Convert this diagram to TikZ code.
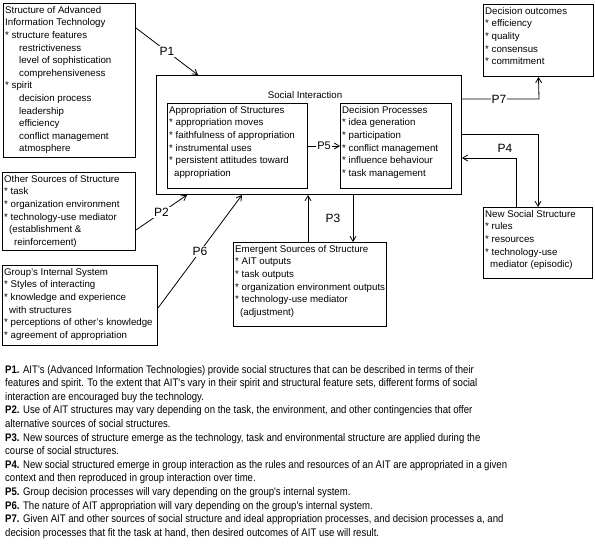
\documentclass[tikz,border=0pt]{standalone}
\usepackage{fontspec}
\setmainfont{Liberation Sans}
\newfontfamily\notefont[FakeStretch=0.87]{Liberation Sans}
\usetikzlibrary{arrows.meta}

\tikzset{
  box/.style={draw, line width=1pt, inner sep=0pt, anchor=north west},
  boxtext/.style={anchor=north west, inner xsep=2pt, inner ysep=3pt, align=left,
    font=\fontsize{9.7}{12.6}\selectfont},
  arr/.style={line width=0.8pt, -{Straight Barb[length=5pt,width=6pt]}},
  link/.style={line width=0.8pt},
  plabel/.style={fill=white, inner sep=1pt, font=\fontsize{12}{12}\selectfont}
}
\newcommand{\sub}{\hspace*{14pt}}
\newcommand{\cont}{\hspace*{5pt}}

\begin{document}
\begin{tikzpicture}[x=1pt, y=-1pt]
  \useasboundingbox[fill=white] (0,0) rectangle (595,560);

  % boxes
  \node[box, minimum width=132, minimum height=154] (ait) at (3,3) {};
  \node[box, minimum width=305, minimum height=119] (social) at (156,75) {};
  \node[box, minimum width=140, minimum height=85] (approp) at (167,103) {};
  \node[box, minimum width=111, minimum height=85] (decision) at (340,103) {};
  \node[box, minimum width=110, minimum height=72] (outcomes) at (483,4) {};
  \node[box, minimum width=109, minimum height=71] (newsoc) at (483,207) {};
  \node[box, minimum width=133, minimum height=78] (other) at (2,172) {};
  \node[box, minimum width=155, minimum height=80] (group) at (2,265) {};
  \node[box, minimum width=153, minimum height=84] (emergent) at (233,242) {};

  % box contents
  \node[boxtext] at (ait.north west) {Structure of Advanced\\Information Technology\\
    * structure features\\\sub restrictiveness\\\sub level of sophistication\\
    \sub comprehensiveness\\* spirit\\\sub decision process\\\sub leadership\\
    \sub efficiency\\\sub conflict management\\\sub atmosphere};
  \node[font=\fontsize{9.7}{12.6}\selectfont] (sititle) at (305,95) {Social Interaction};
  \node[boxtext] at (approp.north west) {Appropriation of Structures\\
    * appropriation moves\\* faithfulness of appropriation\\* instrumental uses\\
    * persistent attitudes toward\\\cont appropriation};
  \node[boxtext] at (decision.north west) {Decision Processes\\* idea generation\\
    * participation\\* conflict management\\* influence behaviour\\* task management};
  \node[boxtext] at (outcomes.north west) {Decision outcomes\\* efficiency\\
    * quality\\* consensus\\* commitment};
  \node[boxtext] at (newsoc.north west) {New Social Structure\\* rules\\
    * resources\\* technology-use\\\cont mediator (episodic)};
  \node[boxtext] at (other.north west) {Other Sources of Structure\\* task\\
    * organization environment\\* technology-use mediator\\
    \cont(establishment \&\\\cont\cont reinforcement)};
  \node[boxtext] at (group.north west) {Group's Internal System\\* Styles of interacting\\
    * knowledge and experience\\\cont with structures\\
    * perceptions of other's knowledge\\* agreement of appropriation};
  \node[boxtext] at (emergent.north west) {Emergent Sources of Structure\\
    * AIT outputs\\* task outputs\\* organization environment outputs\\
    * technology-use mediator\\\cont(adjustment)};

  % connectors
  \draw[arr] ([yshift=-25]ait.north east) -- node[plabel] {P1} ([xshift=42]social.north west);
  \draw[arr] ([yshift=-58]other.north east) -- node[plabel] {P2} ([xshift=31]social.south west);
  \draw[arr] ([yshift=-43]group.north east) -- node[plabel] {P6} ([xshift=86]social.south west);
  \draw[arr] ([xshift=197]social.south west) -- ([xshift=120]emergent.north west);
  \draw[arr] ([xshift=75]emergent.north west) -- ([xshift=152]social.south west);
  \node[plabel] (p3) at (333,218) {P3};
  \draw[arr] (approp.east) -- node[plabel, font=\fontsize{11}{11}\selectfont] {P5} (decision.west);
  \draw[arr] ([yshift=-24]social.north east) -- node[plabel, pos=0.48] {P7} ++(77,0) -- (outcomes.south);
  \draw[arr] ([yshift=-59]social.north east) -| (newsoc.north);
  \draw[arr] ([xshift=33]newsoc.north west) |- ([yshift=-83]social.north east);
  \node[plabel] (p4) at (505,148) {P4};

  % propositions
  \node[anchor=north west, inner sep=0pt, align=left,
    font=\notefont\fontsize{11}{13.6}\selectfont] (notes) at (5,365) {%
    \textbf{P1.} AIT's (Advanced Information Technologies) provide social structures that can be described in terms of their\\
    features and spirit. To the extent that AIT's vary in their spirit and structural feature sets, different forms of social\\
    interaction are encouraged buy the technology.\\
    \textbf{P2.} Use of AIT structures may vary depending on the task, the environment, and other contingencies that offer\\
    alternative sources of social structures.\\
    \textbf{P3.} New sources of structure emerge as the technology, task and environmental structure are applied during the\\
    course of social structures.\\
    \textbf{P4.} New social structured emerge in group interaction as the rules and resources of an AIT are appropriated in a given\\
    context and then reproduced in group interaction over time.\\
    \textbf{P5.} Group decision processes will vary depending on the group's internal system.\\
    \textbf{P6.} The nature of AIT appropriation will vary depending on the group's internal system.\\
    \textbf{P7.} Given AIT and other sources of social structure and ideal appropriation processes, and decision processes a, and\\
    decision processes that fit the task at hand, then desired outcomes of AIT use will result.};
\end{tikzpicture}
\end{document}
